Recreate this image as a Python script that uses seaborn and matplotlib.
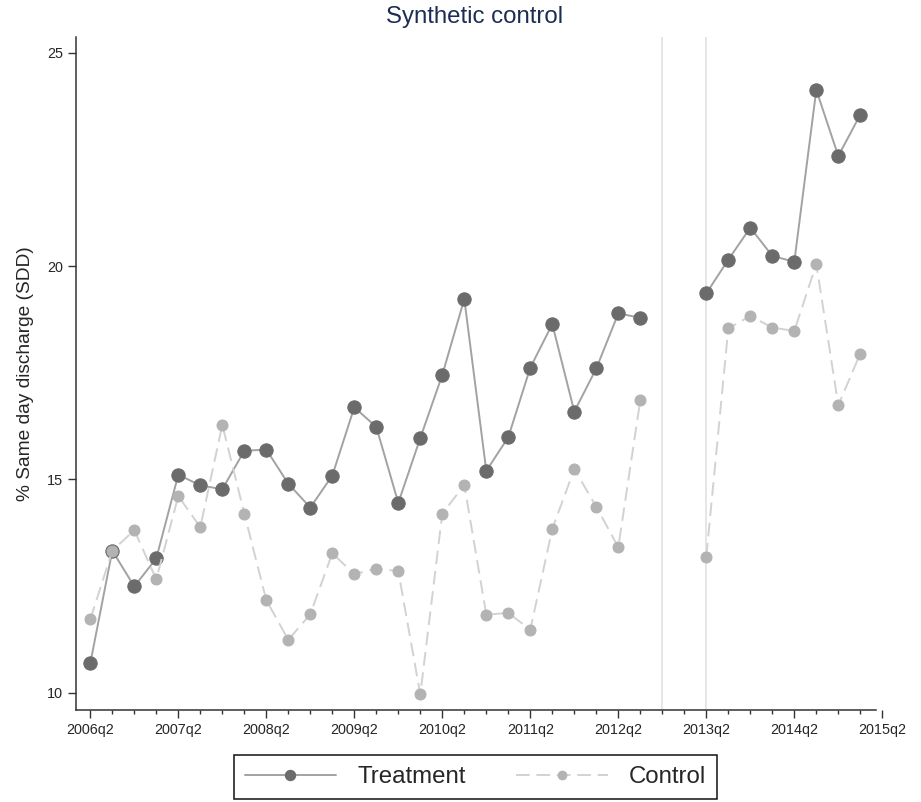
import numpy as np
import pandas as pd
import seaborn as sns
import matplotlib.pyplot as plt
from matplotlib.lines import Line2D

# === Data ===
quarters = [
    "2006q2", "2006q3", "2006q4", "2007q1", "2007q2", "2007q3", "2007q4",
    "2008q1", "2008q2", "2008q3", "2008q4", "2009q1", "2009q2", "2009q3",
    "2009q4", "2010q1", "2010q2", "2010q3", "2010q4", "2011q1", "2011q2",
    "2011q3", "2011q4", "2012q1", "2012q2", "2012q3", "2012q4", "2013q1",
    "2013q2", "2013q3", "2013q4", "2014q1", "2014q2", "2014q3", "2014q4",
    "2015q1",
]
treatment = [
    10.69, 13.33, 12.49, 13.15, 15.11, 14.86, 14.77, 15.67, 15.70, 14.90,
    14.34, 15.09, 16.69, 16.23, 14.45, 15.97, 17.45, 19.23, 15.20, 15.99,
    17.62, 18.64, 16.59, 17.60, 18.89, 18.79, np.nan, np.nan, 19.36, 20.15,
    20.90, 20.24, 20.10, 24.13, 22.58, 23.55,
]
control = [
    11.72, 13.33, 13.81, 12.66, 14.61, 13.88, 16.28, 14.20, 12.17, 11.24,
    11.84, 13.27, 12.78, 12.91, 12.85, 9.96, 14.20, 14.87, 11.83, 11.87,
    11.48, 13.84, 15.24, 14.36, 13.41, 16.86, np.nan, np.nan, 13.19, 18.54,
    18.83, 18.56, 18.48, 20.05, 16.74, 17.95,
]
tick_labels = ["2006q2", "2007q2", "2008q2", "2009q2", "2010q2",
               "2011q2", "2012q2", "2013q2", "2014q2", "2015q2"]
vlines_at = ["2012q4", "2013q2"]

# === Long table ===
t = np.arange(len(quarters))
df = pd.DataFrame({
    "t": t,
    "quarter": quarters,
    "Treatment": treatment,
    "Control": control,
    "period": np.where(t < quarters.index("2012q4"), "pre", "post"),
})

sns.set_style("white")
plt.rcParams["font.family"] = ["Liberation Sans", "DejaVu Sans"]

fig = plt.figure(figsize=(9.21, 8.02), dpi=100)
ax = fig.add_axes([76 / 921, 92 / 802, 808.5 / 921, 673 / 802])

# reference lines
for q in vlines_at:
    ax.axvline(quarters.index(q), color="#e2e2e2", lw=1.2, zorder=0)

treat_style = dict(color="#a2a2a2", lw=1.4, marker="o", markersize=9.6,
                   markerfacecolor="#6b6b6b", markeredgecolor="#6b6b6b")
ctrl_style = dict(color="#d2d2d2", lw=1.4, linestyle=(0, (7, 3.5)), marker="o",
                  markersize=7.9, markerfacecolor="#b3b3b3",
                  markeredgecolor="#b3b3b3")

sns.lineplot(data=df, x="t", y="Treatment", units="period", estimator=None,
             ax=ax, legend=False, **treat_style)
sns.lineplot(data=df, x="t", y="Control", units="period", estimator=None,
             ax=ax, legend=False, **ctrl_style)

# === Axes ===
n_ticks_q = 4 * (len(tick_labels) - 1)
ax.set_xlim(-0.65, n_ticks_q + 0.1)
ax.set_ylim(9.595, 25.37)
ax.set_xticks(np.arange(0, n_ticks_q + 1, 4))
ax.set_xticklabels(tick_labels)
ax.set_xticks(np.arange(0, n_ticks_q + 1, 1), minor=True)
ax.set_yticks([10, 15, 20, 25])

for side in ["top", "right"]:
    ax.spines[side].set_visible(False)
for side in ["left", "bottom"]:
    ax.spines[side].set_color("#333333")
    ax.spines[side].set_linewidth(1.1)
ax.spines["bottom"].set_bounds(-0.65, n_ticks_q - 0.3)

ax.tick_params(axis="both", which="major", direction="out", length=6,
               width=1.0, color="#333333", labelsize=10.4, pad=3.5,
               bottom=True, left=True)
ax.tick_params(axis="x", which="minor", direction="out", length=3,
               width=1.0, color="#333333", bottom=True)

ax.set_xlabel("")
ax.set_ylabel("% Same day discharge (SDD)", fontsize=13.8, labelpad=9)
fig.text(474.5 / 921, 1 - 17 / 802, "Synthetic control", ha="center",
         va="center", fontsize=17.3, color="#1c2d54")

# === Legend ===
handles = [
    Line2D([], [], color="#a2a2a2", lw=1.4, marker="o", markersize=7.2,
           markerfacecolor="#6b6b6b", markeredgecolor="#6b6b6b"),
    Line2D([], [], color="#d2d2d2", lw=1.4, linestyle=(0, (7, 3.5)),
           marker="o", markersize=6.0, markerfacecolor="#b3b3b3",
           markeredgecolor="#b3b3b3"),
]
leg = fig.legend(handles, ["Treatment", "Control"], loc="center",
                 bbox_to_anchor=(475.5 / 921, 1 - 777 / 802), ncol=2,
                 fontsize=17.3, frameon=True, fancybox=False, shadow=False,
                 framealpha=1, handlelength=3.8, handletextpad=0.9,
                 columnspacing=2.1, borderpad=0.45)
leg.get_frame().set_edgecolor("#111111")
leg.get_frame().set_linewidth(1.1)

plt.savefig("out.png", dpi=100)
plt.close()
